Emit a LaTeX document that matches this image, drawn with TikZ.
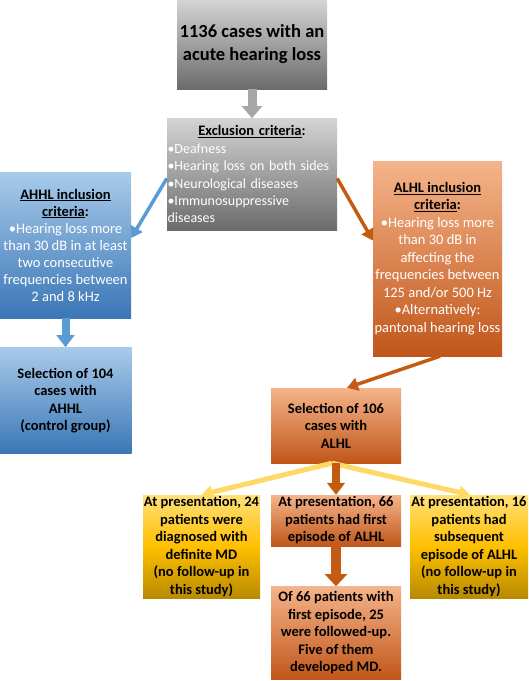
\documentclass[tikz,border=0pt]{standalone}
\usepackage{fontspec}
\setmainfont{Carlito}
\usepackage{xcolor}
\usetikzlibrary{arrows.meta, positioning}

\definecolor{greyTop}{HTML}{D4D4D4}
\definecolor{greyBottom}{HTML}{6B6B6B}
\definecolor{blueTop}{HTML}{A9CBEA}
\definecolor{blueBottom}{HTML}{3A76B6}
\definecolor{orangeTop}{HTML}{F5B48A}
\definecolor{orangeBottom}{HTML}{C0561A}
\definecolor{yellowTop}{HTML}{FFE07A}
\definecolor{yellowMid}{HTML}{FFC000}
\definecolor{yellowBottom}{HTML}{B88A00}
\definecolor{greyArrow}{HTML}{A6A6A6}
\definecolor{blueArrow}{HTML}{5B9BD5}
\definecolor{orangeArrow}{HTML}{C55A11}
\definecolor{yellowArrow}{HTML}{FFD966}

\begin{document}
\begin{tikzpicture}[x=1pt, y=-1pt,
    box/.style={rectangle, inner sep=1pt, align=center, font=\fontsize{14.5}{17.5}\selectfont\bfseries},
    greybox/.style={box, top color=greyTop, bottom color=greyBottom},
    bluebox/.style={box, top color=blueTop, bottom color=blueBottom},
    orangebox/.style={box, top color=orangeTop, bottom color=orangeBottom},
    yellowbox/.style={box, top color=yellowTop, bottom color=yellowBottom, middle color=yellowMid},
    fatarrow/.style={line width=#1, -{Triangle[width=2.2*#1, length=12pt]}},
    thinarrow/.style={line width=3.5pt, -{Triangle[width=13pt, length=11pt]}}
]
\useasboundingbox (0,0) rectangle (529,681);

\node[greybox, minimum width=150pt, minimum height=89pt, font=\fontsize{18.5}{23}\selectfont\bfseries] (cases) at (252,44.5) {1136 cases with an\\acute hearing loss};
\node[greybox, below=29pt of cases, minimum width=170pt, minimum height=112pt, inner sep=0.5pt, text width=169pt, align=left, text=white, font=\fontsize{14}{17.4}\selectfont] (excl) {\makebox[169pt]{\color{black}\fontsize{14.5}{17.4}\selectfont\textbf{\underline{Exclusion criteria}:}}\\\textbullet Deafness\\\textbullet Hearing loss on both sides\\\textbullet Neurological diseases\\\textbullet Immunosuppressive\\diseases};

\node[bluebox, minimum width=131pt, minimum height=146pt, text=white, font=\fontsize{14.5}{17}\selectfont] (ahhl) at (65.5,245) {{\color{black}\textbf{\underline{AHHL inclusion}}}\\{\color{black}\textbf{\underline{criteria}:}}\\\textbullet Hearing loss more\\than 30 dB in at least\\two consecutive\\frequencies between\\2 and 8 kHz};
\node[bluebox, below=29pt of ahhl, minimum width=132pt, minimum height=106pt] (sel104) {Selection of 104\\cases with\\AHHL\\(control group)};

\node[orangebox, minimum width=129pt, minimum height=195pt, text=white, font=\fontsize{14.5}{17.5}\selectfont] (alhl) at (437.5,258.5) {{\color{black}\textbf{\underline{ALHL inclusion}}}\\{\color{black}\textbf{\underline{criteria}:}}\\\textbullet Hearing loss more\\than 30 dB in\\affecting the\\frequencies between\\125 and/or 500 Hz\\\textbullet Alternatively:\\pantonal hearing loss};
\node[orangebox, minimum width=130pt, minimum height=75pt] (sel106) at (336,425.5) {Selection of 106\\cases with\\ALHL};

\node[yellowbox, minimum width=117pt, minimum height=103pt, inner sep=0pt] (mdnow) at (201.5,546.5) {At presentation, 24\\patients were\\diagnosed with\\definite MD\\(no follow-up in\\this study)};
\node[orangebox, minimum width=130pt, minimum height=51pt, inner sep=0pt] (first) at (336,520.5) {At presentation, 66\\patients had first\\episode of ALHL};
\node[orangebox, below=40pt of first, minimum width=130pt, minimum height=93pt] (follow) {Of 66 patients with\\first episode, 25\\were followed-up.\\Five of them\\developed MD.};
\node[yellowbox, minimum width=118pt, minimum height=103pt, inner sep=0pt] (subseq) at (469,546.5) {At presentation, 16\\patients had\\subsequent\\episode of ALHL\\(no follow-up in\\this study)};

% connectors
\draw[fatarrow=9pt, greyArrow] (cases) -- (excl);
\draw[thinarrow, blueArrow] ([yshift=-4pt]excl.west) -- ([yshift=7pt]ahhl.east);
\draw[thinarrow, orangeArrow] ([yshift=-4pt]excl.east) -- ([yshift=18pt]alhl.west);
\draw[fatarrow=8pt, blueArrow] (ahhl) -- (sel104);
\draw[thinarrow, orangeArrow] ([xshift=2.5pt]alhl.south) -- ([xshift=11pt]sel106.north);
\draw[thinarrow, yellowArrow, line width=5pt] ([xshift=-4pt]sel106.south) -- (mdnow.north);
\draw[thinarrow, yellowArrow, line width=5pt] ([xshift=-4pt]sel106.south) -- ([xshift=1pt]subseq.north);
\draw[fatarrow=8pt, orangeArrow] (sel106) -- (first);
\draw[fatarrow=10pt, orangeArrow] (first) -- (follow);
\end{tikzpicture}
\end{document}
